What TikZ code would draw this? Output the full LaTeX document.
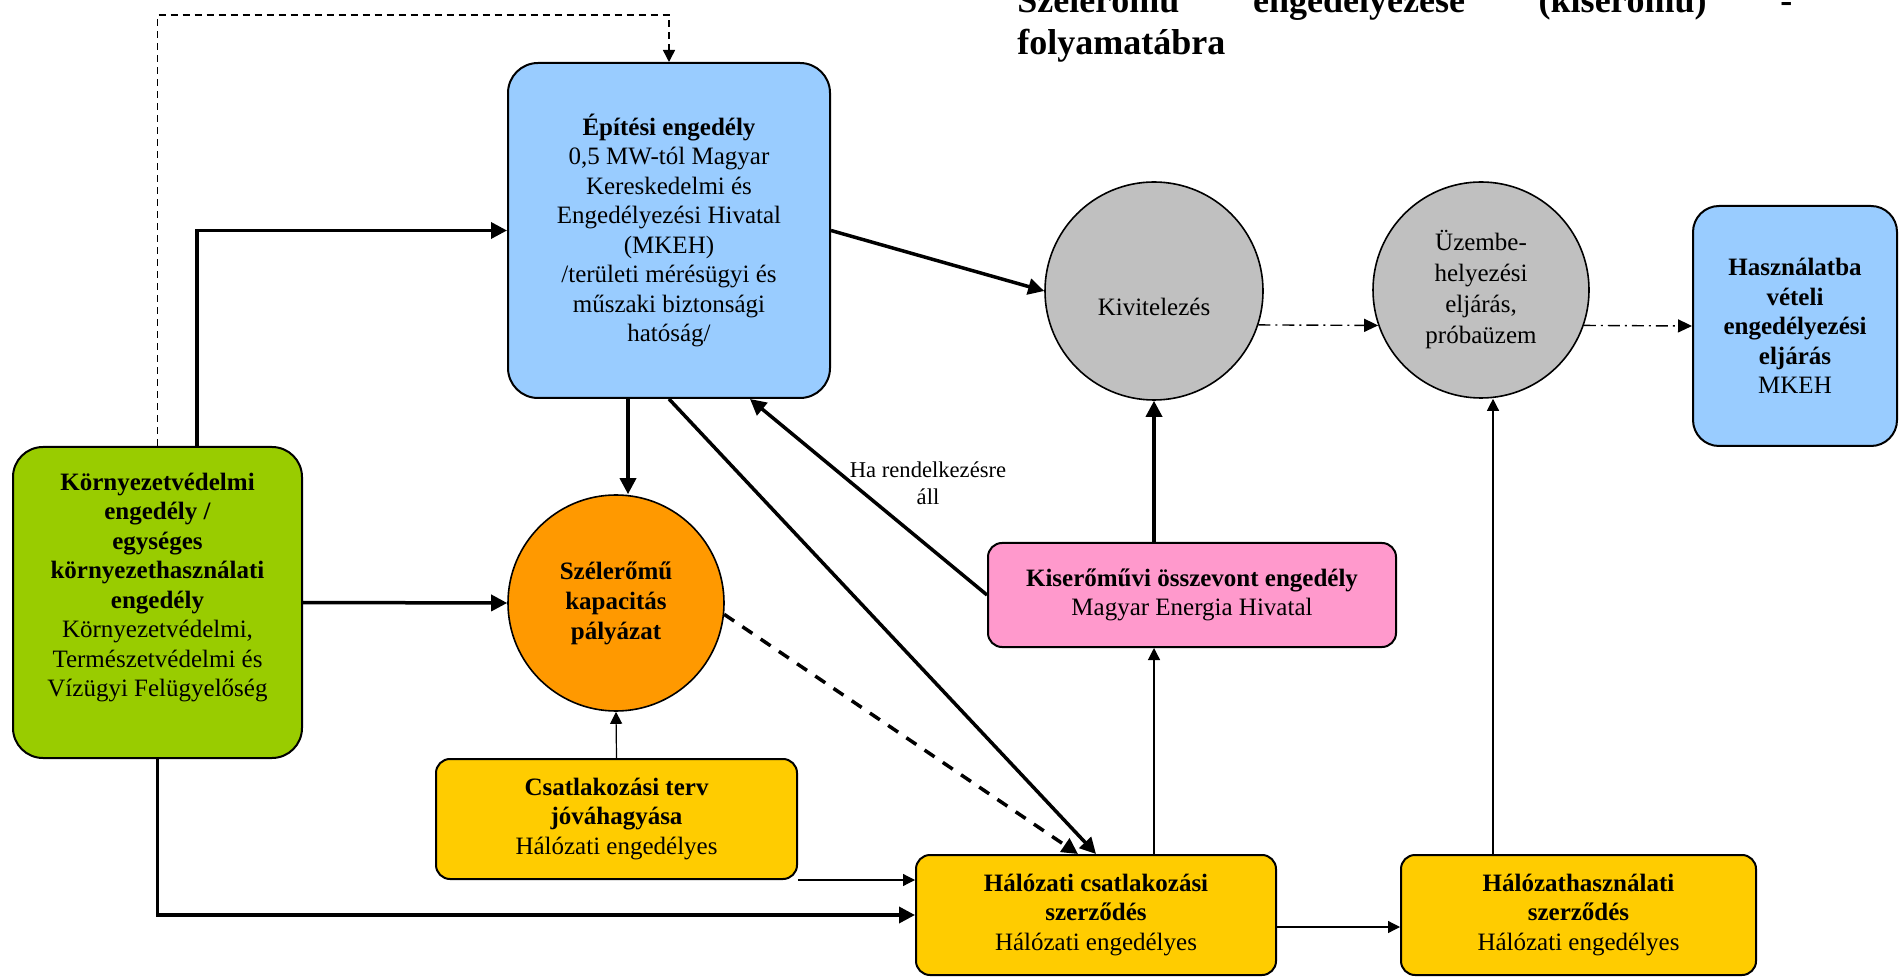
\documentclass[tikz,border=0pt]{standalone}
\usepackage{fontspec}
\setmainfont{Liberation Serif}
\usetikzlibrary{arrows.meta,calc}
\definecolor{cblue}{HTML}{99CCFF}
\definecolor{cgreen}{HTML}{99CC00}
\definecolor{corange}{HTML}{FF9900}
\definecolor{cyellow}{HTML}{FFCC00}
\definecolor{cpink}{HTML}{FF99CC}
\definecolor{cgray}{HTML}{C0C0C0}
\begin{document}
\begin{tikzpicture}[x=0.5pt,y=-0.5pt,
  rbox/.style={draw=black, line width=1pt, align=center, inner sep=2pt,
    font=\fontsize{12.5}{14.75}\selectfont},
  bigr/.style={rbox, rounded corners=15pt},
  smallr/.style={rbox, rounded corners=7pt},
  circ/.style={circle, draw=black, line width=0.8pt, align=center, inner sep=0pt,
    font=\fontsize{12.5}{15.5}\selectfont},
  thickarr/.style={line width=1.75pt, -{Triangle[length=8pt,width=8pt]}},
  thinarr/.style={line width=0.6pt, -{Triangle[length=6pt,width=6pt]}},
  dasharr/.style={line width=0.75pt, dash pattern=on 3.5pt off 2.5pt, -{Triangle[length=6pt,width=6pt]}},
  thickdash/.style={line width=1.75pt, dash pattern=on 6pt off 5pt, -{Triangle[length=8pt,width=8pt]}},
  dashdot/.style={line width=0.7pt, dash pattern=on 6pt off 2.5pt on 1pt off 2.5pt, -{Triangle[length=7pt,width=6.5pt]}},
  titlef/.style={inner sep=0pt, font=\fontsize{18}{21}\selectfont\bfseries},
  lbl/.style={align=center, inner sep=0pt, font=\fontsize{11.3}{13.5}\selectfont}
]
\fill[white] (0,0) rectangle (1899,977);
\useasboundingbox (0,0) rectangle (1899,977);

% title
\node[titlef, anchor=base west] (t1) at (1017,13) {\hbox to 387.5pt{Szélerőmű\hfill engedélyezése\hfill (kiserőmű)\hfill -}};
\node[titlef, anchor=base west] (t2) at (1017,55) {folyamatábra};

% nodes
\node[bigr, fill=cblue, minimum width=161pt, minimum height=167.5pt] (epit) at (669,230.5)
  {\textbf{Építési engedély}\\0,5 MW-tól Magyar\\Kereskedelmi és\\Engedélyezési Hivatal\\(MKEH)\\/területi mérésügyi és\\műszaki biztonsági\\hatóság/};
\node[bigr, fill=cgreen, minimum width=144.5pt, minimum height=155.5pt] (korny) at (157.5,602.5)
  {\textbf{Környezetvédelmi}\\\textbf{engedély /}\\\textbf{egységes}\\\textbf{környezethasználati}\\\textbf{engedély}\\Környezetvédelmi,\\Természetvédelmi és\\Vízügyi Felügyelőség\\\rule[-3pt]{0pt}{3pt}};
\node[circ, fill=corange, minimum size=108pt, font=\fontsize{12.5}{15}\selectfont\bfseries] (szel) at (616,603)
  {Szélerőmű\\kapacitás\\pályázat};
\node[smallr, fill=cyellow, minimum width=180.5pt, minimum height=60pt] (csterv) at (616.5,819)
  {\textbf{Csatlakozási terv}\\\textbf{jóváhagyása}\\Hálózati engedélyes};
\node[smallr, fill=cyellow, minimum width=180pt, minimum height=60pt] (halcs) at (1096,915)
  {\textbf{Hálózati csatlakozási}\\\textbf{szerződés}\\Hálózati engedélyes};
\node[smallr, fill=cyellow, minimum width=177.5pt, minimum height=60pt] (halhasz) at (1578.5,915)
  {\textbf{Hálózathasználati}\\\textbf{szerződés}\\Hálózati engedélyes};
\node[smallr, fill=cpink, minimum width=204pt, minimum height=52pt] (kiser) at (1192,595)
  {\textbf{Kiserőművi összevont engedély}\\Magyar Energia Hivatal};
\node[circ, fill=cgray, minimum size=109pt] (kivit) at (1154,291) {\rule{0pt}{9pt}\\Kivitelezés};
\node[circ, fill=cgray, minimum size=108pt] (uzembe) at (1481,290)
  {Üzembe-\\helyezési\\eljárás,\\próbaüzem};
\node[rbox, rounded corners=13pt, fill=cblue, minimum width=102pt, minimum height=120pt] (haszn) at (1795,326)
  {\textbf{Használatba}\\\textbf{vételi}\\\textbf{engedélyezési}\\\textbf{eljárás}\\MKEH};

% connectors
\coordinate (dtop) at (400,15);
\draw[dasharr] (korny.north) |- (dtop) -| (epit.north);
\draw[thickarr] ($(korny.north)+(39.5,0)$) |- (epit.west);
\draw[thickarr] (korny.east) -- (szel.west);
\draw[thickarr] (korny.south) |- (halcs.west);
\draw[thinarr] (csterv.south east) -- (csterv.south east -| halcs.west);
\draw[thinarr] (csterv.north) -- (szel.south);
\coordinate (e1) at ($(epit.south)+(-41,0)$);
\draw[thickarr] (e1) -- (e1 |- szel.north);
\draw[thickarr] (epit.south) -- (halcs.north);
\draw[thickdash] (szel.-6) -- ($(halcs.north)+(-18,0)$);
\draw[thickarr] (kiser.west) -- ($(epit.south)+(81,0)$);
\node[lbl] (ha) at (928,483) {Ha rendelkezésre\\áll};
\draw[thickarr] (epit.east) -- (kivit.west);
\draw[thickarr] (kiser.north -| kivit.south) -- (kivit.south);
\draw[thinarr] (halcs.north -| kivit.south) -- (kiser.south -| kivit.south);
\draw[thinarr] ([yshift=-6pt]halcs.east) -- ([yshift=-6pt]halhasz.west);
\coordinate (u1) at ($(uzembe.south)+(12,0)$);
\draw[thinarr] (halhasz.north -| u1) -- (u1);
\draw[dashdot] (kivit.-18.7) -- (uzembe.199.5);
\draw[dashdot] (uzembe.-19.5) -- (haszn.west);
\end{tikzpicture}
\end{document}
